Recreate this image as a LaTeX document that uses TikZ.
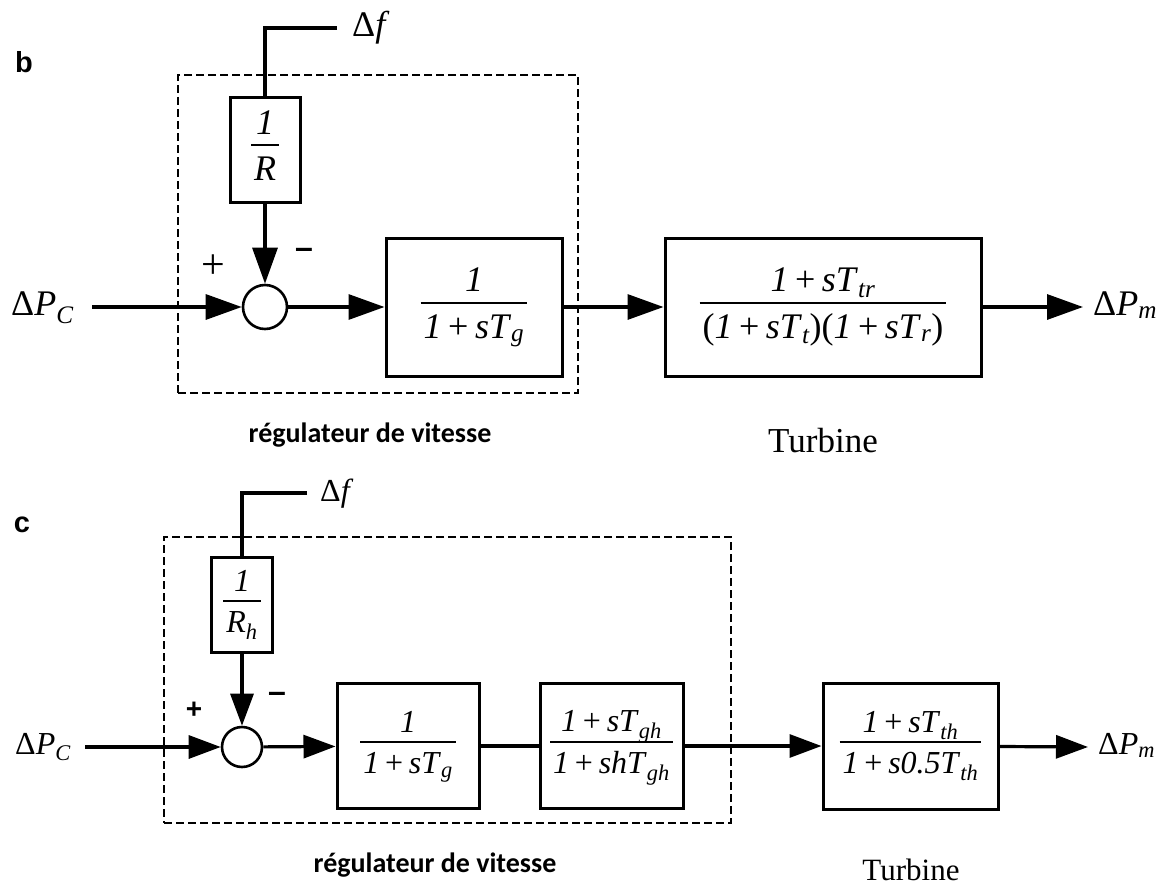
\documentclass[tikz,border=0pt]{standalone}
\usepackage{fontspec}
\setmainfont{Liberation Serif}
\newfontfamily\panelfont{Liberation Sans}
\newfontfamily\capfont{Carlito}
\usetikzlibrary{arrows.meta,positioning}
\setlength{\arrayrulewidth}{2pt}
\newcommand{\vi}[1]{\textit{#1}}
\newcommand{\sub}[1]{\textsubscript{\itshape #1}}
\newcommand{\pl}{\hspace{0.18em}+\hspace{0.18em}}
\newcommand{\fr}[2]{\begin{tabular}{@{\hspace{3pt}}c@{\hspace{3pt}}}#1\\[-2pt]\hline\rule{0pt}{0.95em}#2\end{tabular}}
\tikzset{
  tf/.style={draw, line width=3pt, inner sep=0pt, align=center},
  sumpt/.style={draw, circle, line width=2.6pt, inner sep=0pt},
  sig/.style={line width=3.2pt},
  flow/.style={sig, -{Triangle[length=36pt, width=25pt]}},
  smallflow/.style={sig, -{Triangle[length=32pt, width=23pt]}},
  ctrlbox/.style={draw, line width=2.6pt, dash pattern=on 8pt off 4pt, inner sep=0pt},
  sigtext/.style={inner sep=0pt},
  plus/.style={font=\fontsize{42}{42}\selectfont},
  minus/.style={font=\panelfont\bfseries\fontsize{32}{32}\selectfont},
  panel/.style={font=\panelfont\bfseries\fontsize{29}{29}\selectfont},
  caption/.style={font=\capfont\bfseries\fontsize{28}{28}\selectfont},
  turb/.style={font=\fontsize{#1}{#1}\selectfont}
}

\begin{document}
\begin{tikzpicture}[x=1pt, y=-1pt]
\useasboundingbox (0,0) rectangle (1176,886);

% b
\begin{scope}[font=\fontsize{36}{40}\selectfont]
\node[ctrlbox, minimum width=400pt, minimum height=318pt] (govb) at (378,234) {};
\node[panel] (lblb) at (24,62) {b};
\node[sigtext, anchor=base west] (pcb) at (11,315) {Δ\vi{P}\sub{C}};
\coordinate (inb) at (92,307);
\node[sumpt, minimum size=44pt] (sumb) at (265,307) {};
\node[tf, minimum width=70pt, minimum height=105pt] (rb) at (265,149.5) {\fr{\vi{1}}{\vi{R}}};
\coordinate (fb) at (337,28);
\node[sigtext, anchor=west] (dfb) at (352,28) {Δ\vi{f}};
\node[tf, minimum width=176pt, minimum height=138pt] (gb) at (474,307) {\fr{\vi{1}}{\vi{1}\pl\vi{sT}\sub{g}}};
\node[tf, minimum width=316pt, minimum height=138pt] (tb) at (823,307)
  {\fr{\vi{1}\pl\vi{sT}\sub{tr}}{(\vi{1}\pl\vi{sT}\sub{t})(\vi{1}\pl\vi{sT}\sub{r})}};
\coordinate (outb) at (1083,307);
\node[sigtext, anchor=base west] (pmb) at (1093,315) {Δ\vi{P}\sub{m}};
\node[plus] (plb) at (213,267) {+};
\node[minus] (mnb) at (304,253) {–};
\node[caption] (govbl) at (370,435) {régulateur de vitesse};
\node[turb=35] (turbl) at (823,441) {Turbine};
\draw[flow] (inb) -- (sumb);
\draw[sig] (fb) -| (rb);
\draw[flow] (rb) -- (sumb);
\draw[flow] (sumb) -- (gb);
\draw[flow] (gb) -- (tb);
\draw[flow] (tb) -- (outb);
\end{scope}

% c
\begin{scope}[font=\fontsize{32}{36}\selectfont]
\node[ctrlbox, minimum width=567pt, minimum height=286pt] (govc) at (447.5,680) {};
\node[panel] (lblc) at (22,525) {c};
\node[sigtext, anchor=base west] (pcc) at (15,754) {Δ\vi{P}\sub{C}};
\coordinate (inc) at (85,747);
\node[sumpt, minimum size=40pt] (sumc) at (242,747) {};
\node[tf, minimum width=61pt, minimum height=95pt] (rc) at (242,604.5) {\fr{\vi{1}}{\vi{R}\sub{h}}};
\coordinate (fc) at (307,493);
\node[sigtext, anchor=west] (dfc) at (320,494) {Δ\vi{f}};
\node[tf, minimum width=142pt, minimum height=125pt] (g1c) at (408,746) {\fr{\vi{1}}{\vi{1}\pl\vi{sT}\sub{g}}};
\node[tf, minimum width=143pt, minimum height=125pt] (g2c) at (611.5,746)
  {\fr{\vi{1}\pl\vi{sT}\sub{gh}}{\vi{1}\pl\vi{shT}\sub{gh}}};
\node[tf, minimum width=175pt, minimum height=126pt] (tc) at (910.5,746)
  {\fr{\vi{1}\pl\vi{sT}\sub{th}}{\vi{1}\pl\vi{s0.5T}\sub{th}}};
\coordinate (outc) at (1088,747);
\node[sigtext, anchor=base west] (pmc) at (1098,754) {Δ\vi{P}\sub{m}};
\node[minus, font=\panelfont\bfseries\fontsize{28}{28}\selectfont] (plc) at (194,710) {+};
\node[minus] (mnc) at (277,697) {–};
\node[caption] (govcl) at (435,865) {régulateur de vitesse};
\node[turb=31] (turcl) at (911,870) {Turbine};
\draw[smallflow] (inc) -- (sumc);
\draw[sig] (fc) -| (rc);
\draw[smallflow] (rc) -- (sumc);
\draw[smallflow] (sumc) -- (g1c);
\draw[sig] (g1c) -- (g2c);
\draw[smallflow] (g2c) -- (tc);
\draw[smallflow] (tc) -- (outc);
\end{scope}
\end{tikzpicture}
\end{document}
